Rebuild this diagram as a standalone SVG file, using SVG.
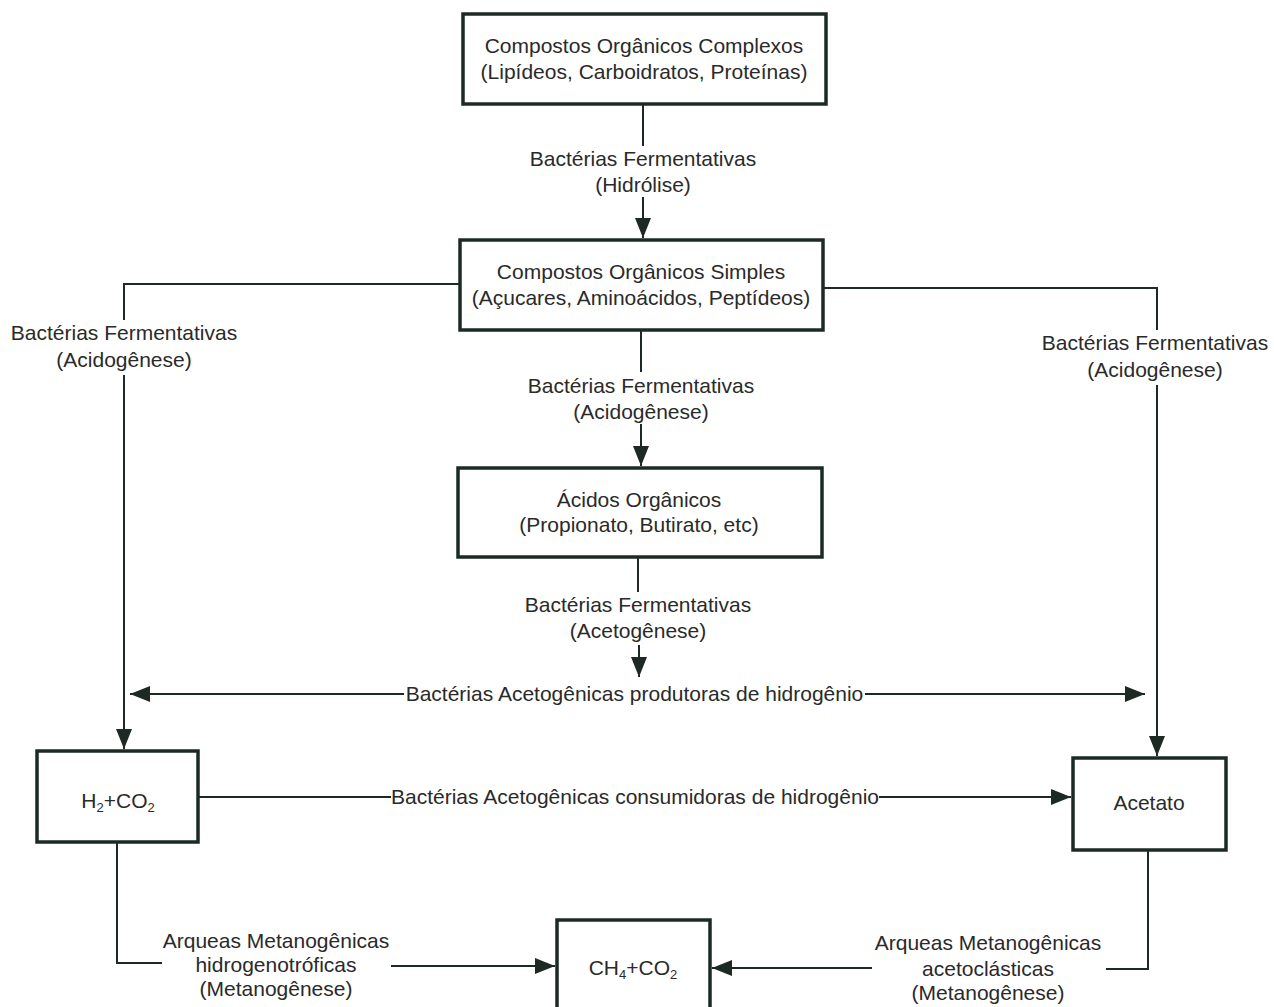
<svg xmlns="http://www.w3.org/2000/svg" width="1274" height="1007" viewBox="0 0 1274 1007">
<style>
.box{fill:#fff;stroke:#1d2a24;stroke-width:3.5}
.ln{fill:none;stroke:#1d2a24;stroke-width:2}
text{font-family:"Liberation Sans",Arial,sans-serif;font-size:21px;fill:#2a2a2a;text-anchor:middle}
.sub{font-size:13px}
</style>
<defs>
<marker id="ah" markerUnits="userSpaceOnUse" markerWidth="22" markerHeight="16" refX="20" refY="8" orient="auto">
<path d="M0,0 L20,8 L0,16 Z" fill="#1d2a24"/>
</marker>
</defs>
<rect width="1274" height="1007" fill="#fff"/>
<g id="connectors">
<path class="ln" d="M643,104 V146"/>
<path class="ln" d="M643,197 V238" marker-end="url(#ah)"/>
<path class="ln" d="M460,284 H124 V320"/>
<path class="ln" d="M124,375 V749" marker-end="url(#ah)"/>
<path class="ln" d="M823,288 H1157 V330"/>
<path class="ln" d="M1157,385 V756" marker-end="url(#ah)"/>
<path class="ln" d="M641,330 V372"/>
<path class="ln" d="M641,424 V466" marker-end="url(#ah)"/>
<path class="ln" d="M638,557 V592"/>
<path class="ln" d="M639,645 V677" marker-end="url(#ah)"/>
<path class="ln" d="M404,694 H130" marker-end="url(#ah)"/>
<path class="ln" d="M865,694 H1145" marker-end="url(#ah)"/>
<path class="ln" d="M198,797 H391"/>
<path class="ln" d="M879,797 H1071" marker-end="url(#ah)"/>
<path class="ln" d="M117,842 V963 H162"/>
<path class="ln" d="M391,966 H555" marker-end="url(#ah)"/>
<path class="ln" d="M1148,850 V969 H1106"/>
<path class="ln" d="M872,968 H712" marker-end="url(#ah)"/>
<text x="643" y="166">Bactérias Fermentativas</text>
<text x="643" y="192">(Hidrólise)</text>
<text x="124" y="340">Bactérias Fermentativas</text>
<text x="124" y="367">(Acidogênese)</text>
<text x="1155" y="350">Bactérias Fermentativas</text>
<text x="1155" y="377">(Acidogênese)</text>
<text x="641" y="393">Bactérias Fermentativas</text>
<text x="641" y="419">(Acidogênese)</text>
<text x="638" y="612">Bactérias Fermentativas</text>
<text x="638" y="638">(Acetogênese)</text>
<text x="634.5" y="701">Bactérias Acetogênicas produtoras de hidrogênio</text>
<text x="635" y="804">Bactérias Acetogênicas consumidoras de hidrogênio</text>
<text x="276" y="948">Arqueas Metanogênicas</text>
<text x="276" y="972">hidrogenotróficas</text>
<text x="276" y="996">(Metanogênese)</text>
<text x="988" y="950">Arqueas Metanogênicas</text>
<text x="988" y="976">acetoclásticas</text>
<text x="988" y="1000">(Metanogênese)</text>
</g>
<g id="n1">
<rect class="box" x="463" y="14" width="363" height="90"/>
<text x="644" y="53">Compostos Orgânicos Complexos</text>
<text x="644" y="79">(Lipídeos, Carboidratos, Proteínas)</text>
</g>
<g id="n2">
<rect class="box" x="460" y="240" width="363" height="90"/>
<text x="641" y="279">Compostos Orgânicos Simples</text>
<text x="641" y="305">(Açucares, Aminoácidos, Peptídeos)</text>
</g>
<g id="n3">
<rect class="box" x="458" y="468" width="364" height="89"/>
<text x="639" y="507">Ácidos Orgânicos</text>
<text x="639" y="532">(Propionato, Butirato, etc)</text>
</g>
<g id="n4">
<rect class="box" x="37" y="751" width="161" height="91"/>
<text x="118" y="808">H<tspan class="sub" dy="4">2</tspan><tspan dy="-4">+CO</tspan><tspan class="sub" dy="4">2</tspan></text>
</g>
<g id="n5">
<rect class="box" x="1073" y="758" width="153" height="92"/>
<text x="1149" y="810">Acetato</text>
</g>
<g id="n6">
<rect class="box" x="557" y="920" width="153" height="100"/>
<text x="633" y="975">CH<tspan class="sub" dy="4">4</tspan><tspan dy="-4">+CO</tspan><tspan class="sub" dy="4">2</tspan></text>
</g>
</svg>
